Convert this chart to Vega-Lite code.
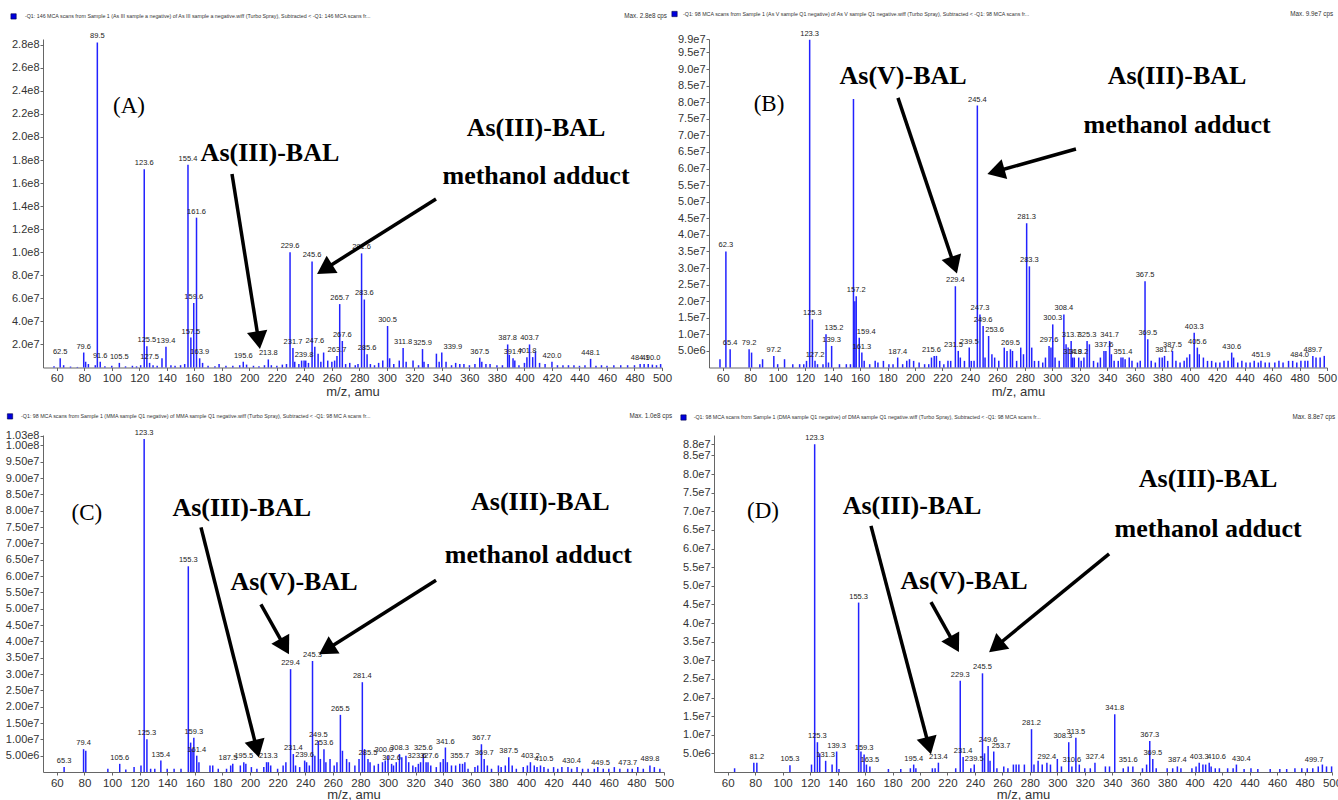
{
"$schema": "https://vega.github.io/schema/vega-lite/v6.json",
"padding": {"left": 5, "top": 10, "right": 0, "bottom": 0},
"bounds": "flush",
"spacing": 396,
"datasets": {
"peaks": [
{"p":"A","mz":62.5,"i":8e6,"label":"62.5"},{"p":"A","mz":79.6,"i":1.3e7,"label":"79.6"},{"p":"A","mz":89.5,"i":2.82e8,"label":"89.5"},{"p":"A","mz":91.6,"i":5e6,"label":"91.6"},{"p":"A","mz":105.5,"i":4e6,"label":"105.5"},{"p":"A","mz":123.6,"i":1.72e8,"label":"123.6"},{"p":"A","mz":125.5,"i":1.85e7,"label":"125.5"},{"p":"A","mz":127.5,"i":4e6,"label":"127.5"},{"p":"A","mz":139.4,"i":1.8e7,"label":"139.4"},{"p":"A","mz":155.4,"i":1.76e8,"label":"155.4"},{"p":"A","mz":157.5,"i":2.6e7,"label":"157.5"},{"p":"A","mz":159.6,"i":5.6e7,"label":"159.6"},{"p":"A","mz":161.6,"i":1.3e8,"label":"161.6"},{"p":"A","mz":163.9,"i":8e6,"label":"163.9"},{"p":"A","mz":195.6,"i":5e6,"label":"195.6"},{"p":"A","mz":213.8,"i":7e6,"label":"213.8"},{"p":"A","mz":229.6,"i":1.0e8,"label":"229.6"},{"p":"A","mz":231.7,"i":1.7e7,"label":"231.7"},{"p":"A","mz":239.8,"i":6e6,"label":"239.8"},{"p":"A","mz":245.6,"i":9.2e7,"label":"245.6"},{"p":"A","mz":247.6,"i":1.8e7,"label":"247.6"},{"p":"A","mz":263.7,"i":1.0e7,"label":"263.7"},{"p":"A","mz":265.7,"i":5.5e7,"label":"265.7"},{"p":"A","mz":267.6,"i":2.3e7,"label":"267.6"},{"p":"A","mz":281.6,"i":9.9e7,"label":"281.6"},{"p":"A","mz":283.6,"i":5.9e7,"label":"283.6"},{"p":"A","mz":285.6,"i":1.15e7,"label":"285.6"},{"p":"A","mz":300.5,"i":3.6e7,"label":"300.5"},{"p":"A","mz":311.8,"i":1.7e7,"label":"311.8"},{"p":"A","mz":325.9,"i":1.6e7,"label":"325.9"},{"p":"A","mz":339.9,"i":1.3e7,"label":"339.9","lmz":348},{"p":"A","mz":367.5,"i":8.5e6,"label":"367.5"},{"p":"A","mz":387.8,"i":2.0e7,"label":"387.8"},{"p":"A","mz":391.7,"i":8e6,"label":"391.7"},{"p":"A","mz":401.8,"i":9e6,"label":"401.8"},{"p":"A","mz":403.7,"i":2.0e7,"label":"403.7"},{"p":"A","mz":420.0,"i":5e6,"label":"420.0"},{"p":"A","mz":448.1,"i":7.5e6,"label":"448.1"},{"p":"A","mz":484.1,"i":3e6,"label":"484.1"},{"p":"A","mz":490.0,"i":3e6,"label":"490.0","lmz":492},
{"p":"A","mz":58,"i":1e6},{"p":"A","mz":65,"i":2e6},{"p":"A","mz":70,"i":8e5},{"p":"A","mz":75,"i":5e5},{"p":"A","mz":81,"i":5e6},{"p":"A","mz":83,"i":3e6},{"p":"A","mz":88,"i":2e6},{"p":"A","mz":95,"i":1e6},{"p":"A","mz":100,"i":1.5e6},{"p":"A","mz":110,"i":1e6},{"p":"A","mz":115,"i":1.5e6},{"p":"A","mz":118,"i":1e6},{"p":"A","mz":121,"i":2e6},{"p":"A","mz":130,"i":2e6},{"p":"A","mz":133,"i":1.5e6},{"p":"A","mz":136.5,"i":8e6},{"p":"A","mz":143,"i":2e6},{"p":"A","mz":146,"i":1.5e6},{"p":"A","mz":150,"i":2e6},{"p":"A","mz":153,"i":3e6},{"p":"A","mz":166,"i":4e6},{"p":"A","mz":170,"i":1.5e6},{"p":"A","mz":175,"i":1e6},{"p":"A","mz":178,"i":3e6},{"p":"A","mz":183,"i":1.5e6},{"p":"A","mz":188,"i":1.5e6},{"p":"A","mz":193,"i":2e6},{"p":"A","mz":198,"i":2.5e6},{"p":"A","mz":203,"i":1.5e6},{"p":"A","mz":207,"i":1e6},{"p":"A","mz":211,"i":2e6},{"p":"A","mz":216,"i":2e6},{"p":"A","mz":220,"i":1.5e6},{"p":"A","mz":224,"i":2.5e6},{"p":"A","mz":227,"i":3e6},{"p":"A","mz":233,"i":5e6},{"p":"A","mz":236,"i":3e6},{"p":"A","mz":238,"i":6e6},{"p":"A","mz":241,"i":6e6},{"p":"A","mz":243,"i":4e6},{"p":"A","mz":250,"i":1.2e7},{"p":"A","mz":252,"i":5e6},{"p":"A","mz":254,"i":1.3e7},{"p":"A","mz":257,"i":6e6},{"p":"A","mz":260,"i":5e6},{"p":"A","mz":262,"i":6e6},{"p":"A","mz":270,"i":3e6},{"p":"A","mz":273,"i":4e6},{"p":"A","mz":277,"i":2e6},{"p":"A","mz":279,"i":3e6},{"p":"A","mz":288,"i":3e6},{"p":"A","mz":291,"i":2e6},{"p":"A","mz":294,"i":4e6},{"p":"A","mz":297,"i":6e6},{"p":"A","mz":302,"i":8e6},{"p":"A","mz":305,"i":3e6},{"p":"A","mz":309,"i":6e6},{"p":"A","mz":314,"i":5e6},{"p":"A","mz":319,"i":6e6},{"p":"A","mz":323,"i":2e6},{"p":"A","mz":327,"i":5e6},{"p":"A","mz":330,"i":3e6},{"p":"A","mz":336,"i":1.2e7},{"p":"A","mz":338,"i":5e6},{"p":"A","mz":343,"i":5e6},{"p":"A","mz":347,"i":2e6},{"p":"A","mz":350,"i":4e6},{"p":"A","mz":353,"i":3e6},{"p":"A","mz":356,"i":3e6},{"p":"A","mz":360,"i":2e6},{"p":"A","mz":364,"i":3e6},{"p":"A","mz":369,"i":5e6},{"p":"A","mz":372,"i":3e6},{"p":"A","mz":375,"i":3e6},{"p":"A","mz":380,"i":2e6},{"p":"A","mz":384,"i":2e6},{"p":"A","mz":389,"i":1.1e7},{"p":"A","mz":393,"i":6e6},{"p":"A","mz":396,"i":2e6},{"p":"A","mz":400,"i":4e6},{"p":"A","mz":406,"i":9e6},{"p":"A","mz":408,"i":1.4e7},{"p":"A","mz":411,"i":4e6},{"p":"A","mz":415,"i":3e6},{"p":"A","mz":424,"i":2e6},{"p":"A","mz":428,"i":2e6},{"p":"A","mz":432,"i":2e6},{"p":"A","mz":436,"i":2e6},{"p":"A","mz":440,"i":1.5e6},{"p":"A","mz":444,"i":2e6},{"p":"A","mz":452,"i":1.5e6},{"p":"A","mz":456,"i":2e6},{"p":"A","mz":460,"i":1.5e6},{"p":"A","mz":465,"i":2e6},{"p":"A","mz":470,"i":2e6},{"p":"A","mz":475,"i":2e6},{"p":"A","mz":480,"i":2e6},{"p":"A","mz":487,"i":3e6},{"p":"A","mz":493,"i":2.5e6},{"p":"A","mz":496,"i":2e6},{"p":"A","mz":499,"i":3e6},
{"p":"B","mz":62.3,"i":3.5e7,"label":"62.3"},{"p":"B","mz":65.4,"i":5.5e6,"label":"65.4"},{"p":"B","mz":79.2,"i":5.5e6,"label":"79.2"},{"p":"B","mz":97.2,"i":3.5e6,"label":"97.2"},{"p":"B","mz":123.3,"i":9.88e7,"label":"123.3"},{"p":"B","mz":125.3,"i":1.45e7,"label":"125.3"},{"p":"B","mz":127.2,"i":2e6,"label":"127.2"},{"p":"B","mz":135.2,"i":1.0e7,"label":"135.2","lmz":141},{"p":"B","mz":139.3,"i":6.5e6,"label":"139.3"},{"p":"B","mz":157.2,"i":2.15e7,"label":"157.2"},{"p":"B","mz":159.4,"i":9e6,"label":"159.4","lmz":164.5},{"p":"B","mz":161.3,"i":4.5e6,"label":"161.3"},{"p":"B","mz":187.4,"i":3e6,"label":"187.4"},{"p":"B","mz":215.6,"i":3.5e6,"label":"215.6","lmz":212},{"p":"B","mz":229.4,"i":2.45e7,"label":"229.4"},{"p":"B","mz":231.5,"i":5e6,"label":"231.5","lmz":228},{"p":"B","mz":239.5,"i":6e6,"label":"239.5"},{"p":"B","mz":245.4,"i":7.9e7,"label":"245.4"},{"p":"B","mz":247.3,"i":1.6e7,"label":"247.3"},{"p":"B","mz":249.6,"i":1.25e7,"label":"249.6"},{"p":"B","mz":253.6,"i":9.5e6,"label":"253.6","lmz":258},{"p":"B","mz":269.5,"i":5.5e6,"label":"269.5"},{"p":"B","mz":281.3,"i":4.35e7,"label":"281.3"},{"p":"B","mz":283.3,"i":3.05e7,"label":"283.3"},{"p":"B","mz":297.6,"i":6.5e6,"label":"297.6"},{"p":"B","mz":300.3,"i":1.3e7,"label":"300.3"},{"p":"B","mz":308.4,"i":1.6e7,"label":"308.4"},{"p":"B","mz":313.7,"i":8e6,"label":"313.7"},{"p":"B","mz":314.8,"i":3e6,"label":"314.8"},{"p":"B","mz":319.2,"i":3e6,"label":"319.2"},{"p":"B","mz":325.3,"i":8e6,"label":"325.3"},{"p":"B","mz":337.6,"i":5e6,"label":"337.6"},{"p":"B","mz":341.7,"i":8e6,"label":"341.7"},{"p":"B","mz":351.4,"i":3e6,"label":"351.4"},{"p":"B","mz":367.5,"i":2.6e7,"label":"367.5"},{"p":"B","mz":369.5,"i":8.5e6,"label":"369.5"},{"p":"B","mz":381.7,"i":3.5e6,"label":"381.7"},{"p":"B","mz":387.5,"i":5e6,"label":"387.5"},{"p":"B","mz":403.3,"i":1.05e7,"label":"403.3"},{"p":"B","mz":405.6,"i":6e6,"label":"405.6"},{"p":"B","mz":430.6,"i":4.5e6,"label":"430.6"},{"p":"B","mz":451.9,"i":2e6,"label":"451.9"},{"p":"B","mz":484.0,"i":2e6,"label":"484.0","lmz":480},{"p":"B","mz":489.7,"i":3.5e6,"label":"489.7"},
{"p":"B","mz":155.2,"i":8.1e7},{"p":"B","mz":156.2,"i":2e7},{"p":"B","mz":58,"i":2.5e6},{"p":"B","mz":81,"i":4.5e6},{"p":"B","mz":87,"i":1e6},{"p":"B","mz":89,"i":2.5e6},{"p":"B","mz":100,"i":1e6},{"p":"B","mz":105,"i":2.5e6},{"p":"B","mz":111,"i":1e6},{"p":"B","mz":116,"i":1e6},{"p":"B","mz":119,"i":1e6},{"p":"B","mz":121,"i":2e6},{"p":"B","mz":129,"i":1e6},{"p":"B","mz":133,"i":1e6},{"p":"B","mz":137,"i":1.5e6},{"p":"B","mz":145,"i":1e6},{"p":"B","mz":150,"i":1e6},{"p":"B","mz":153,"i":1e6},{"p":"B","mz":163,"i":2e6},{"p":"B","mz":167,"i":1e6},{"p":"B","mz":171,"i":2e6},{"p":"B","mz":173,"i":1.5e6},{"p":"B","mz":177,"i":2e6},{"p":"B","mz":181,"i":1e6},{"p":"B","mz":184,"i":1e6},{"p":"B","mz":191,"i":1e6},{"p":"B","mz":194,"i":2e6},{"p":"B","mz":196,"i":2.5e6},{"p":"B","mz":199,"i":2e6},{"p":"B","mz":203,"i":1.5e6},{"p":"B","mz":207,"i":1e6},{"p":"B","mz":210,"i":1e6},{"p":"B","mz":212,"i":3e6},{"p":"B","mz":214,"i":3.5e6},{"p":"B","mz":218,"i":2e6},{"p":"B","mz":221,"i":1e6},{"p":"B","mz":224,"i":2e6},{"p":"B","mz":226,"i":2e6},{"p":"B","mz":233,"i":3e6},{"p":"B","mz":236,"i":2e6},{"p":"B","mz":241,"i":2e6},{"p":"B","mz":243,"i":2e6},{"p":"B","mz":251,"i":3e6},{"p":"B","mz":256,"i":4e6},{"p":"B","mz":258,"i":3e6},{"p":"B","mz":261,"i":2e6},{"p":"B","mz":265,"i":6e6},{"p":"B","mz":267,"i":5e6},{"p":"B","mz":271,"i":5e6},{"p":"B","mz":274,"i":2e6},{"p":"B","mz":277,"i":6e6},{"p":"B","mz":279,"i":4e6},{"p":"B","mz":285,"i":6e6},{"p":"B","mz":287,"i":2e6},{"p":"B","mz":290,"i":2e6},{"p":"B","mz":293,"i":1.5e6},{"p":"B","mz":295,"i":3e6},{"p":"B","mz":299,"i":6e6},{"p":"B","mz":302,"i":3e6},{"p":"B","mz":305,"i":2e6},{"p":"B","mz":310,"i":7e6},{"p":"B","mz":311.5,"i":6e6},{"p":"B","mz":316,"i":3e6},{"p":"B","mz":321,"i":2e6},{"p":"B","mz":323,"i":3e6},{"p":"B","mz":327,"i":7e6},{"p":"B","mz":330,"i":2e6},{"p":"B","mz":333,"i":1.5e6},{"p":"B","mz":335,"i":3e6},{"p":"B","mz":339,"i":5e6},{"p":"B","mz":343,"i":4e6},{"p":"B","mz":345,"i":2e6},{"p":"B","mz":348,"i":2e6},{"p":"B","mz":350,"i":3e6},{"p":"B","mz":353,"i":2.5e6},{"p":"B","mz":356,"i":3e6},{"p":"B","mz":358,"i":2e6},{"p":"B","mz":362,"i":1.5e6},{"p":"B","mz":364,"i":2e6},{"p":"B","mz":372,"i":2e6},{"p":"B","mz":375,"i":1.5e6},{"p":"B","mz":378,"i":3e6},{"p":"B","mz":380,"i":3e6},{"p":"B","mz":384,"i":2e6},{"p":"B","mz":390,"i":2e6},{"p":"B","mz":393,"i":1.5e6},{"p":"B","mz":396,"i":2e6},{"p":"B","mz":398,"i":3e6},{"p":"B","mz":400,"i":4e6},{"p":"B","mz":407,"i":4e6},{"p":"B","mz":410,"i":3e6},{"p":"B","mz":413,"i":2e6},{"p":"B","mz":416,"i":2e6},{"p":"B","mz":419,"i":1.5e6},{"p":"B","mz":422,"i":1.5e6},{"p":"B","mz":425,"i":2e6},{"p":"B","mz":428,"i":2e6},{"p":"B","mz":432,"i":3e6},{"p":"B","mz":435,"i":1.5e6},{"p":"B","mz":438,"i":2e6},{"p":"B","mz":441,"i":1.5e6},{"p":"B","mz":444,"i":1.5e6},{"p":"B","mz":447,"i":2e6},{"p":"B","mz":450,"i":1.5e6},{"p":"B","mz":455,"i":1.5e6},{"p":"B","mz":458,"i":1.5e6},{"p":"B","mz":462,"i":1.5e6},{"p":"B","mz":465,"i":2e6},{"p":"B","mz":468,"i":1.5e6},{"p":"B","mz":472,"i":2e6},{"p":"B","mz":475,"i":2e6},{"p":"B","mz":478,"i":1.5e6},{"p":"B","mz":481,"i":2e6},{"p":"B","mz":486,"i":2e6},{"p":"B","mz":492,"i":3e6},{"p":"B","mz":495,"i":3e6},{"p":"B","mz":498,"i":3.5e6},
{"p":"C","mz":65.3,"i":1.5e6,"label":"65.3"},{"p":"C","mz":79.4,"i":7e6,"label":"79.4"},{"p":"C","mz":105.6,"i":2.5e6,"label":"105.6"},{"p":"C","mz":123.3,"i":1.02e8,"label":"123.3"},{"p":"C","mz":125.3,"i":1.0e7,"label":"125.3"},{"p":"C","mz":135.4,"i":3.5e6,"label":"135.4"},{"p":"C","mz":155.3,"i":6.3e7,"label":"155.3"},{"p":"C","mz":159.3,"i":1.05e7,"label":"159.3"},{"p":"C","mz":161.4,"i":5e6,"label":"161.4"},{"p":"C","mz":187.5,"i":2.5e6,"label":"187.5","lmz":184},{"p":"C","mz":195.5,"i":3e6,"label":"195.5"},{"p":"C","mz":213.3,"i":3e6,"label":"213.3"},{"p":"C","mz":229.4,"i":3.15e7,"label":"229.4"},{"p":"C","mz":231.4,"i":5.5e6,"label":"231.4"},{"p":"C","mz":239.6,"i":3.5e6,"label":"239.6"},{"p":"C","mz":245.3,"i":3.4e7,"label":"245.3"},{"p":"C","mz":249.5,"i":9.5e6,"label":"249.5"},{"p":"C","mz":253.6,"i":7e6,"label":"253.6"},{"p":"C","mz":265.5,"i":1.75e7,"label":"265.5"},{"p":"C","mz":281.4,"i":2.75e7,"label":"281.4"},{"p":"C","mz":285.5,"i":4e6,"label":"285.5"},{"p":"C","mz":300.0,"i":5e6,"label":"300.0","lmz":297},{"p":"C","mz":302.6,"i":2.5e6,"label":"302.6"},{"p":"C","mz":308.3,"i":5.5e6,"label":"308.3"},{"p":"C","mz":323.6,"i":3e6,"label":"323.6","lmz":321},{"p":"C","mz":325.6,"i":5.5e6,"label":"325.6"},{"p":"C","mz":327.6,"i":3e6,"label":"327.6","lmz":330},{"p":"C","mz":341.6,"i":7.5e6,"label":"341.6"},{"p":"C","mz":355.7,"i":3e6,"label":"355.7","lmz":352},{"p":"C","mz":367.7,"i":8.5e6,"label":"367.7"},{"p":"C","mz":369.7,"i":4e6,"label":"369.7"},{"p":"C","mz":387.5,"i":4.5e6,"label":"387.5"},{"p":"C","mz":403.2,"i":3e6,"label":"403.2"},{"p":"C","mz":410.5,"i":2e6,"label":"410.5","lmz":413},{"p":"C","mz":430.4,"i":1.5e6,"label":"430.4","lmz":433},{"p":"C","mz":449.5,"i":1e6,"label":"449.5","lmz":454},{"p":"C","mz":473.7,"i":1e6,"label":"473.7"},{"p":"C","mz":489.8,"i":2e6,"label":"489.8"},
{"p":"C","mz":81,"i":6.5e6},{"p":"C","mz":97,"i":1e6},{"p":"C","mz":110,"i":8e5},{"p":"C","mz":116,"i":1.5e6},{"p":"C","mz":121,"i":2e6},{"p":"C","mz":128,"i":1e6},{"p":"C","mz":131,"i":1e6},{"p":"C","mz":140,"i":1e6},{"p":"C","mz":145,"i":1e6},{"p":"C","mz":150,"i":1e6},{"p":"C","mz":157,"i":9e6},{"p":"C","mz":158,"i":7e6},{"p":"C","mz":163,"i":3e6},{"p":"C","mz":171,"i":2e6},{"p":"C","mz":173,"i":2e6},{"p":"C","mz":177,"i":1e6},{"p":"C","mz":183,"i":1e6},{"p":"C","mz":186,"i":2e6},{"p":"C","mz":193,"i":2e6},{"p":"C","mz":197,"i":2.5e6},{"p":"C","mz":201,"i":1.5e6},{"p":"C","mz":205,"i":1e6},{"p":"C","mz":210,"i":1.5e6},{"p":"C","mz":212,"i":3e6},{"p":"C","mz":215,"i":2e6},{"p":"C","mz":220,"i":1e6},{"p":"C","mz":224,"i":2e6},{"p":"C","mz":226,"i":3e6},{"p":"C","mz":233,"i":2e6},{"p":"C","mz":236,"i":1.5e6},{"p":"C","mz":241,"i":3e6},{"p":"C","mz":243,"i":2e6},{"p":"C","mz":247,"i":5e6},{"p":"C","mz":251,"i":4e6},{"p":"C","mz":255,"i":3e6},{"p":"C","mz":258,"i":4e6},{"p":"C","mz":261,"i":2e6},{"p":"C","mz":263,"i":3e6},{"p":"C","mz":267,"i":6.5e6},{"p":"C","mz":270,"i":4e6},{"p":"C","mz":272,"i":3e6},{"p":"C","mz":276,"i":2e6},{"p":"C","mz":279,"i":4e6},{"p":"C","mz":283,"i":7e6},{"p":"C","mz":287,"i":3e6},{"p":"C","mz":290,"i":2e6},{"p":"C","mz":293,"i":2.5e6},{"p":"C","mz":296,"i":3e6},{"p":"C","mz":298,"i":3.5e6},{"p":"C","mz":304,"i":2e6},{"p":"C","mz":306,"i":3e6},{"p":"C","mz":310,"i":4.5e6},{"p":"C","mz":313,"i":5e6},{"p":"C","mz":315,"i":3e6},{"p":"C","mz":318,"i":2e6},{"p":"C","mz":320,"i":1.5e6},{"p":"C","mz":322,"i":2.5e6},{"p":"C","mz":329,"i":3e6},{"p":"C","mz":331,"i":2e6},{"p":"C","mz":335,"i":1.5e6},{"p":"C","mz":338,"i":3e6},{"p":"C","mz":340,"i":4e6},{"p":"C","mz":343,"i":3e6},{"p":"C","mz":346,"i":2e6},{"p":"C","mz":349,"i":2e6},{"p":"C","mz":352,"i":2.5e6},{"p":"C","mz":354,"i":2.5e6},{"p":"C","mz":358,"i":1e6},{"p":"C","mz":363,"i":1.5e6},{"p":"C","mz":365,"i":2e6},{"p":"C","mz":372,"i":2e6},{"p":"C","mz":375,"i":1e6},{"p":"C","mz":380,"i":2e6},{"p":"C","mz":382,"i":1.5e6},{"p":"C","mz":385,"i":2e6},{"p":"C","mz":390,"i":2e6},{"p":"C","mz":393,"i":1e6},{"p":"C","mz":398,"i":1.5e6},{"p":"C","mz":401,"i":2e6},{"p":"C","mz":406,"i":2e6},{"p":"C","mz":408,"i":1.5e6},{"p":"C","mz":413,"i":1.5e6},{"p":"C","mz":416,"i":1e6},{"p":"C","mz":420,"i":1.5e6},{"p":"C","mz":423,"i":1e6},{"p":"C","mz":426,"i":1.5e6},{"p":"C","mz":433,"i":1e6},{"p":"C","mz":437,"i":1.5e6},{"p":"C","mz":441,"i":1e6},{"p":"C","mz":445,"i":1e6},{"p":"C","mz":452,"i":1.5e6},{"p":"C","mz":456,"i":1e6},{"p":"C","mz":460,"i":1e6},{"p":"C","mz":464,"i":1.5e6},{"p":"C","mz":468,"i":1e6},{"p":"C","mz":477,"i":1e6},{"p":"C","mz":481,"i":1.5e6},{"p":"C","mz":485,"i":1e6},{"p":"C","mz":493,"i":1.5e6},{"p":"C","mz":497,"i":1e6},
{"p":"D","mz":81.2,"i":2.5e6,"label":"81.2"},{"p":"D","mz":105.3,"i":1.8e6,"label":"105.3"},{"p":"D","mz":123.3,"i":8.8e7,"label":"123.3"},{"p":"D","mz":125.3,"i":8e6,"label":"125.3"},{"p":"D","mz":131.3,"i":3e6,"label":"131.3"},{"p":"D","mz":139.3,"i":5.5e6,"label":"139.3"},{"p":"D","mz":155.3,"i":4.55e7,"label":"155.3"},{"p":"D","mz":159.3,"i":4.7e6,"label":"159.3"},{"p":"D","mz":163.5,"i":1.5e6,"label":"163.5"},{"p":"D","mz":195.4,"i":2e6,"label":"195.4"},{"p":"D","mz":213.4,"i":2.5e6,"label":"213.4"},{"p":"D","mz":229.3,"i":2.45e7,"label":"229.3"},{"p":"D","mz":231.4,"i":4e6,"label":"231.4"},{"p":"D","mz":239.5,"i":2e6,"label":"239.5"},{"p":"D","mz":245.5,"i":2.65e7,"label":"245.5"},{"p":"D","mz":249.6,"i":7e6,"label":"249.6"},{"p":"D","mz":253.7,"i":5.5e6,"label":"253.7","lmz":259},{"p":"D","mz":281.2,"i":1.15e7,"label":"281.2"},{"p":"D","mz":292.4,"i":2.5e6,"label":"292.4"},{"p":"D","mz":308.3,"i":8e6,"label":"308.3","lmz":304},{"p":"D","mz":310.6,"i":1.5e6,"label":"310.6"},{"p":"D","mz":313.5,"i":9.2e6,"label":"313.5"},{"p":"D","mz":327.4,"i":2.5e6,"label":"327.4"},{"p":"D","mz":341.8,"i":1.55e7,"label":"341.8"},{"p":"D","mz":351.6,"i":1.5e6,"label":"351.6"},{"p":"D","mz":367.3,"i":8.3e6,"label":"367.3"},{"p":"D","mz":369.5,"i":3.5e6,"label":"369.5"},{"p":"D","mz":387.4,"i":1.5e6,"label":"387.4"},{"p":"D","mz":403.3,"i":2.5e6,"label":"403.3"},{"p":"D","mz":410.6,"i":2.5e6,"label":"410.6","lmz":416},{"p":"D","mz":430.4,"i":2e6,"label":"430.4","lmz":434},{"p":"D","mz":499.7,"i":1.5e6,"label":"499.7","lmz":487},
{"p":"D","mz":65,"i":1e6},{"p":"D","mz":79,"i":2.5e6},{"p":"D","mz":121,"i":2e6},{"p":"D","mz":127,"i":5e6},{"p":"D","mz":136,"i":2e6},{"p":"D","mz":141,"i":8e5},{"p":"D","mz":157,"i":5.5e6},{"p":"D","mz":161,"i":2e6},{"p":"D","mz":177,"i":8e5},{"p":"D","mz":186,"i":8e5},{"p":"D","mz":193,"i":1e6},{"p":"D","mz":197,"i":1e6},{"p":"D","mz":209,"i":1e6},{"p":"D","mz":211,"i":1e6},{"p":"D","mz":226,"i":1e6},{"p":"D","mz":237,"i":1e6},{"p":"D","mz":247,"i":5e6},{"p":"D","mz":251,"i":3e6},{"p":"D","mz":256,"i":1e6},{"p":"D","mz":261,"i":1.5e6},{"p":"D","mz":264,"i":1e6},{"p":"D","mz":268,"i":2e6},{"p":"D","mz":270,"i":2e6},{"p":"D","mz":272,"i":2e6},{"p":"D","mz":276,"i":2e6},{"p":"D","mz":283,"i":2e6},{"p":"D","mz":286,"i":3e6},{"p":"D","mz":289,"i":2e6},{"p":"D","mz":295,"i":2e6},{"p":"D","mz":300,"i":3.5e6},{"p":"D","mz":303,"i":1.5e6},{"p":"D","mz":316,"i":2e6},{"p":"D","mz":320,"i":1e6},{"p":"D","mz":324,"i":1e6},{"p":"D","mz":335,"i":1.5e6},{"p":"D","mz":338,"i":1.5e6},{"p":"D","mz":348,"i":1e6},{"p":"D","mz":355,"i":1.5e6},{"p":"D","mz":362,"i":1e6},{"p":"D","mz":365,"i":2e6},{"p":"D","mz":372,"i":1e6},{"p":"D","mz":380,"i":1e6},{"p":"D","mz":384,"i":1e6},{"p":"D","mz":390,"i":1e6},{"p":"D","mz":398,"i":1e6},{"p":"D","mz":401,"i":1.5e6},{"p":"D","mz":406,"i":2e6},{"p":"D","mz":408,"i":2e6},{"p":"D","mz":412,"i":1.5e6},{"p":"D","mz":415,"i":1e6},{"p":"D","mz":418,"i":1e6},{"p":"D","mz":424,"i":1e6},{"p":"D","mz":428,"i":1e6},{"p":"D","mz":436,"i":8e5},{"p":"D","mz":441,"i":1e6},{"p":"D","mz":446,"i":8e5},{"p":"D","mz":455,"i":8e5},{"p":"D","mz":462,"i":8e5},{"p":"D","mz":467,"i":8e5},{"p":"D","mz":473,"i":1e6},{"p":"D","mz":478,"i":1e6},{"p":"D","mz":482,"i":1e6},{"p":"D","mz":486,"i":1e6},{"p":"D","mz":490,"i":1.5e6},{"p":"D","mz":493,"i":2e6},{"p":"D","mz":496,"i":1.5e6}
],
"notes": [
{"p":"A","kind":"tag","mz":112.5,"i":2.27e8,"text":"(A)"},
{"p":"A","kind":"big","mz":215,"i":1.86e8,"text":"As(III)-BAL"},
{"p":"A","kind":"big","mz":408.4,"i":2.077e8,"text":"As(III)-BAL"},
{"p":"A","kind":"big","mz":408.4,"i":1.66e8,"text":"methanol adduct"},
{"p":"A","kind":"hl","mz":36.9,"i":3.046e8,"text":"-Q1: 146 MCA scans from Sample 1 (As III sample a negative) of As III sample a negative.wiff (Turbo Spray), Subtracted < -Q1: 146 MCA scans fr..."},
{"p":"A","kind":"hr","mz":503.6,"i":3.046e8,"text":"Max. 2.8e8 cps"},
{"p":"A","kind":"sq","mz":28.6,"i":3.046e8,"text":""},
{"p":"B","kind":"tag","mz":93.7,"i":7.95e7,"text":"(B)"},
{"p":"B","kind":"big","mz":191.3,"i":8.79e7,"text":"As(V)-BAL"},
{"p":"B","kind":"big","mz":390.8,"i":8.79e7,"text":"As(III)-BAL"},
{"p":"B","kind":"big","mz":390.8,"i":7.31e7,"text":"methanol adduct"},
{"p":"B","kind":"hl","mz":31.1,"i":1.066e8,"text":"-Q1: 98 MCA scans from Sample 1 (As V sample Q1 negative) of As V sample Q1 negative.wiff (Turbo Spray), Subtracted < -Q1: 98 MCA scans fr..."},
{"p":"B","kind":"hr","mz":504.4,"i":1.066e8,"text":"Max. 9.9e7 cps"},
{"p":"B","kind":"sq","mz":24.9,"i":1.066e8,"text":""},
{"p":"C","kind":"tag","mz":81.8,"i":7.92e7,"text":"(C)"},
{"p":"C","kind":"big","mz":194,"i":8.07e7,"text":"As(III)-BAL"},
{"p":"C","kind":"big","mz":231.9,"i":5.81e7,"text":"As(V)-BAL"},
{"p":"C","kind":"big","mz":410.4,"i":8.26e7,"text":"As(III)-BAL"},
{"p":"C","kind":"big","mz":408.9,"i":6.66e7,"text":"methanol adduct"},
{"p":"C","kind":"hl","mz":34.1,"i":1.089e8,"text":"-Q1: 98 MCA scans from Sample 1 (MMA sample Q1 negative) of MMA sample Q1 negative.wiff (Turbo Spray), Subtracted < -Q1: 98 MC A scans fr..."},
{"p":"C","kind":"hr","mz":505.9,"i":1.089e8,"text":"Max. 1.0e8 cps"},
{"p":"C","kind":"sq","mz":26.1,"i":1.089e8,"text":""},
{"p":"D","kind":"tag","mz":85.7,"i":7.02e7,"text":"(D)"},
{"p":"D","kind":"big","mz":194.2,"i":7.14e7,"text":"As(III)-BAL"},
{"p":"D","kind":"big","mz":232.1,"i":5.14e7,"text":"As(V)-BAL"},
{"p":"D","kind":"big","mz":409.8,"i":7.86e7,"text":"As(III)-BAL"},
{"p":"D","kind":"big","mz":409.8,"i":6.53e7,"text":"methanol adduct"},
{"p":"D","kind":"hl","mz":35.2,"i":9.52e7,"text":"-Q1: 98 MCA scans from Sample 1 (DMA sample Q1 negative) of DMA sample Q1 negative.wiff (Turbo Spray), Subtracted < -Q1: 98 MCA scans fr..."},
{"p":"D","kind":"hr","mz":502.3,"i":9.52e7,"text":"Max. 8.8e7 cps"},
{"p":"D","kind":"sq","mz":27.8,"i":9.52e7,"text":""}
],
"arrows": [
{"p":"A","mz":206.7,"i":2.37e7,"mz2":187.4,"i2":1.679e8,"angle":170.9},
{"p":"A","mz":254.7,"i":8.53e7,"mz2":335.7,"i2":1.462e8,"angle":237.8},
{"p":"B","mz":228.5,"i":3.085e7,"mz2":187.6,"i2":8.13e7,"angle":161.5},
{"p":"B","mz":258.9,"i":5.91e7,"mz2":317.2,"i2":6.59e7,"angle":254.3},
{"p":"C","mz":204.9,"i":7.1e6,"mz2":164.5,"i2":7.49e7,"angle":165.85},
{"p":"C","mz":225.1,"i":3.84e7,"mz2":207.9,"i2":5.13e7,"angle":150.75},
{"p":"C","mz":255.5,"i":3.75e7,"mz2":334.8,"i2":5.87e7,"angle":237.7},
{"p":"D","mz":206.4,"i":7.05e6,"mz2":164.3,"i2":6.61e7,"angle":165.85},
{"p":"D","mz":225.2,"i":3.43e7,"mz2":208,"i2":4.56e7,"angle":150.75},
{"p":"D","mz":255.3,"i":3.37e7,"mz2":337.7,"i2":5.86e7,"angle":230.5}
]
},
"vconcat": [
{"hconcat": [
{"width": 619, "height": 328.5,
 "encoding": {
  "x": {"field":"mz","type":"quantitative","scale":{"domain":[50,500],"nice":false,"zero":false},"axis":{"values":[60,80,100,120,140,160,180,200,220,240,260,280,300,320,340,360,380,400,420,440,460,480,500],"title":"m/z, amu"}},
  "y": {"field":"i","type":"quantitative","scale":{"domain":[0,2.85e8],"nice":false},"axis":{"values":[2e7,4e7,6e7,8e7,1e8,1.2e8,1.4e8,1.6e8,1.8e8,2e8,2.2e8,2.4e8,2.6e8,2.8e8],"labelExpr":"replace(format(datum.value,'.1e'),'+','')","title":null}}
 },
 "layer": [
  {"data":{"name":"peaks"},"transform":[{"filter":"datum.p==='A'"}],"mark":{"type":"rule","color":"#2222ff","strokeWidth":1.5},"encoding":{"y2":{"datum":0}}},
  {"data":{"name":"peaks"},"transform":[{"filter":"datum.p==='A' && datum.label && !datum.lmz"}],"mark":{"type":"text","fontSize":7.5,"baseline":"bottom","dy":-2,"color":"#222","font":"Liberation Sans"},"encoding":{"text":{"field":"label"}}},
  {"data":{"name":"peaks"},"transform":[{"filter":"datum.p==='A' && datum.lmz"}],"mark":{"type":"text","fontSize":7.5,"baseline":"bottom","dy":-2,"color":"#222","font":"Liberation Sans"},"encoding":{"x":{"field":"lmz","type":"quantitative"},"text":{"field":"label"}}},
  {"data":{"name":"arrows"},"transform":[{"filter":"datum.p==='A'"}],"mark":{"type":"rule","color":"black","strokeWidth":3.5},"encoding":{"x2":{"field":"mz2"},"y2":{"field":"i2"}}},
  {"data":{"name":"arrows"},"transform":[{"filter":"datum.p==='A'"}],"mark":{"type":"point","shape":"triangle-up","filled":true,"color":"black","opacity":1,"size":420},"encoding":{"angle":{"field":"angle","type":"quantitative","scale":null}}},
  {"data":{"name":"notes"},"transform":[{"filter":"datum.p==='A' && datum.kind==='big'"}],"mark":{"type":"text","font":"Liberation Serif","fontWeight":"bold","fontSize":26,"align":"center","baseline":"middle","color":"black"},"encoding":{"text":{"field":"text"}}},
  {"data":{"name":"notes"},"transform":[{"filter":"datum.p==='A' && datum.kind==='tag'"}],"mark":{"type":"text","font":"Liberation Serif","fontSize":23,"align":"center","baseline":"middle","color":"black"},"encoding":{"text":{"field":"text"}}},
  {"data":{"name":"notes"},"transform":[{"filter":"datum.p==='A' && datum.kind==='hl'"}],"mark":{"type":"text","font":"Liberation Sans","fontSize":5.3,"align":"left","baseline":"middle","color":"#333"},"encoding":{"text":{"field":"text"}}},
  {"data":{"name":"notes"},"transform":[{"filter":"datum.p==='A' && datum.kind==='hr'"}],"mark":{"type":"text","font":"Liberation Sans","fontSize":6.3,"align":"right","baseline":"middle","color":"#333"},"encoding":{"text":{"field":"text"}}},
  {"data":{"name":"notes"},"transform":[{"filter":"datum.p==='A' && datum.kind==='sq'"}],"mark":{"type":"point","shape":"square","filled":true,"color":"#0000dd","opacity":1,"size":28,"stroke":"#000044","strokeWidth":0.6}},
  {"data":{"values":[{}]},"mark":{"type":"point","shape":"triangle-right","filled":true,"color":"#000066","opacity":1,"size":30},"encoding":{"x":{"datum":50},"y":{"datum":0}}}
 ]},
{"width": 618, "height": 328.5,
 "encoding": {
  "x": {"field":"mz","type":"quantitative","scale":{"domain":[50,500],"nice":false,"zero":false},"axis":{"values":[60,80,100,120,140,160,180,200,220,240,260,280,300,320,340,360,380,400,420,440,460,480,500],"title":"m/z, amu"}},
  "y": {"field":"i","type":"quantitative","scale":{"domain":[0,9.906e7],"nice":false},"axis":{"values":[5e6,1e7,1.5e7,2e7,2.5e7,3e7,3.5e7,4e7,4.5e7,5e7,5.5e7,6e7,6.5e7,7e7,7.5e7,8e7,8.5e7,9e7,9.5e7,9.9e7],"labelExpr":"replace(format(datum.value,'.1e'),'+','')","title":null}}
 },
 "layer": [
  {"data":{"name":"peaks"},"transform":[{"filter":"datum.p==='B'"}],"mark":{"type":"rule","color":"#2222ff","strokeWidth":1.5},"encoding":{"y2":{"datum":0}}},
  {"data":{"name":"peaks"},"transform":[{"filter":"datum.p==='B' && datum.label && !datum.lmz"}],"mark":{"type":"text","fontSize":7.5,"baseline":"bottom","dy":-2,"color":"#222","font":"Liberation Sans"},"encoding":{"text":{"field":"label"}}},
  {"data":{"name":"peaks"},"transform":[{"filter":"datum.p==='B' && datum.lmz"}],"mark":{"type":"text","fontSize":7.5,"baseline":"bottom","dy":-2,"color":"#222","font":"Liberation Sans"},"encoding":{"x":{"field":"lmz","type":"quantitative"},"text":{"field":"label"}}},
  {"data":{"name":"arrows"},"transform":[{"filter":"datum.p==='B'"}],"mark":{"type":"rule","color":"black","strokeWidth":3.5},"encoding":{"x2":{"field":"mz2"},"y2":{"field":"i2"}}},
  {"data":{"name":"arrows"},"transform":[{"filter":"datum.p==='B'"}],"mark":{"type":"point","shape":"triangle-up","filled":true,"color":"black","opacity":1,"size":420},"encoding":{"angle":{"field":"angle","type":"quantitative","scale":null}}},
  {"data":{"name":"notes"},"transform":[{"filter":"datum.p==='B' && datum.kind==='big'"}],"mark":{"type":"text","font":"Liberation Serif","fontWeight":"bold","fontSize":26,"align":"center","baseline":"middle","color":"black"},"encoding":{"text":{"field":"text"}}},
  {"data":{"name":"notes"},"transform":[{"filter":"datum.p==='B' && datum.kind==='tag'"}],"mark":{"type":"text","font":"Liberation Serif","fontSize":23,"align":"center","baseline":"middle","color":"black"},"encoding":{"text":{"field":"text"}}},
  {"data":{"name":"notes"},"transform":[{"filter":"datum.p==='B' && datum.kind==='hl'"}],"mark":{"type":"text","font":"Liberation Sans","fontSize":5.3,"align":"left","baseline":"middle","color":"#333"},"encoding":{"text":{"field":"text"}}},
  {"data":{"name":"notes"},"transform":[{"filter":"datum.p==='B' && datum.kind==='hr'"}],"mark":{"type":"text","font":"Liberation Sans","fontSize":6.3,"align":"right","baseline":"middle","color":"#333"},"encoding":{"text":{"field":"text"}}},
  {"data":{"name":"notes"},"transform":[{"filter":"datum.p==='B' && datum.kind==='sq'"}],"mark":{"type":"point","shape":"square","filled":true,"color":"#0000dd","opacity":1,"size":28,"stroke":"#000044","strokeWidth":0.6}},
  {"data":{"values":[{}]},"mark":{"type":"point","shape":"triangle-right","filled":true,"color":"#000066","opacity":1,"size":30},"encoding":{"x":{"datum":50},"y":{"datum":0}}}
 ]}
], "spacing": 47, "bounds": "flush"},
{"hconcat": [
{"width": 621, "height": 337,
 "encoding": {
  "x": {"field":"mz","type":"quantitative","scale":{"domain":[50,500],"nice":false,"zero":false},"axis":{"values":[60,80,100,120,140,160,180,200,220,240,260,280,300,320,340,360,380,400,420,440,460,480,500],"title":"m/z, amu","titlePadding":0}},
  "y": {"field":"i","type":"quantitative","scale":{"domain":[0,1.032e8],"nice":false},"axis":{"values":[5e6,1e7,1.5e7,2e7,2.5e7,3e7,3.5e7,4e7,4.5e7,5e7,5.5e7,6e7,6.5e7,7e7,7.5e7,8e7,8.5e7,9e7,9.5e7,1e8,1.03e8],"labelExpr":"replace(format(datum.value,'.2e'),'+','')","title":null}}
 },
 "layer": [
  {"data":{"name":"peaks"},"transform":[{"filter":"datum.p==='C'"}],"mark":{"type":"rule","color":"#2222ff","strokeWidth":1.5},"encoding":{"y2":{"datum":0}}},
  {"data":{"name":"peaks"},"transform":[{"filter":"datum.p==='C' && datum.label && !datum.lmz"}],"mark":{"type":"text","fontSize":7.5,"baseline":"bottom","dy":-2,"color":"#222","font":"Liberation Sans"},"encoding":{"text":{"field":"label"}}},
  {"data":{"name":"peaks"},"transform":[{"filter":"datum.p==='C' && datum.lmz"}],"mark":{"type":"text","fontSize":7.5,"baseline":"bottom","dy":-2,"color":"#222","font":"Liberation Sans"},"encoding":{"x":{"field":"lmz","type":"quantitative"},"text":{"field":"label"}}},
  {"data":{"name":"arrows"},"transform":[{"filter":"datum.p==='C'"}],"mark":{"type":"rule","color":"black","strokeWidth":3.5},"encoding":{"x2":{"field":"mz2"},"y2":{"field":"i2"}}},
  {"data":{"name":"arrows"},"transform":[{"filter":"datum.p==='C'"}],"mark":{"type":"point","shape":"triangle-up","filled":true,"color":"black","opacity":1,"size":420},"encoding":{"angle":{"field":"angle","type":"quantitative","scale":null}}},
  {"data":{"name":"notes"},"transform":[{"filter":"datum.p==='C' && datum.kind==='big'"}],"mark":{"type":"text","font":"Liberation Serif","fontWeight":"bold","fontSize":26,"align":"center","baseline":"middle","color":"black"},"encoding":{"text":{"field":"text"}}},
  {"data":{"name":"notes"},"transform":[{"filter":"datum.p==='C' && datum.kind==='tag'"}],"mark":{"type":"text","font":"Liberation Serif","fontSize":23,"align":"center","baseline":"middle","color":"black"},"encoding":{"text":{"field":"text"}}},
  {"data":{"name":"notes"},"transform":[{"filter":"datum.p==='C' && datum.kind==='hl'"}],"mark":{"type":"text","font":"Liberation Sans","fontSize":5.3,"align":"left","baseline":"middle","color":"#333"},"encoding":{"text":{"field":"text"}}},
  {"data":{"name":"notes"},"transform":[{"filter":"datum.p==='C' && datum.kind==='hr'"}],"mark":{"type":"text","font":"Liberation Sans","fontSize":6.3,"align":"right","baseline":"middle","color":"#333"},"encoding":{"text":{"field":"text"}}},
  {"data":{"name":"notes"},"transform":[{"filter":"datum.p==='C' && datum.kind==='sq'"}],"mark":{"type":"point","shape":"square","filled":true,"color":"#0000dd","opacity":1,"size":28,"stroke":"#000044","strokeWidth":0.6}},
  {"data":{"values":[{}]},"mark":{"type":"point","shape":"triangle-right","filled":true,"color":"#000066","opacity":1,"size":30},"encoding":{"x":{"datum":50},"y":{"datum":0}}}
 ]},
{"width": 618, "height": 337,
 "encoding": {
  "x": {"field":"mz","type":"quantitative","scale":{"domain":[50,500],"nice":false,"zero":false},"axis":{"values":[60,80,100,120,140,160,180,200,220,240,260,280,300,320,340,360,380,400,420,440,460,480,500],"title":"m/z, amu","titlePadding":0}},
  "y": {"field":"i","type":"quantitative","scale":{"domain":[0,9.05e7],"nice":false},"axis":{"values":[5e6,1e7,1.5e7,2e7,2.5e7,3e7,3.5e7,4e7,4.5e7,5e7,5.5e7,6e7,6.5e7,7e7,7.5e7,8e7,8.5e7,8.8e7],"labelExpr":"replace(format(datum.value,'.1e'),'+','')","title":null}}
 },
 "layer": [
  {"data":{"name":"peaks"},"transform":[{"filter":"datum.p==='D'"}],"mark":{"type":"rule","color":"#2222ff","strokeWidth":1.5},"encoding":{"y2":{"datum":0}}},
  {"data":{"name":"peaks"},"transform":[{"filter":"datum.p==='D' && datum.label && !datum.lmz"}],"mark":{"type":"text","fontSize":7.5,"baseline":"bottom","dy":-2,"color":"#222","font":"Liberation Sans"},"encoding":{"text":{"field":"label"}}},
  {"data":{"name":"peaks"},"transform":[{"filter":"datum.p==='D' && datum.lmz"}],"mark":{"type":"text","fontSize":7.5,"baseline":"bottom","dy":-2,"color":"#222","font":"Liberation Sans"},"encoding":{"x":{"field":"lmz","type":"quantitative"},"text":{"field":"label"}}},
  {"data":{"name":"arrows"},"transform":[{"filter":"datum.p==='D'"}],"mark":{"type":"rule","color":"black","strokeWidth":3.5},"encoding":{"x2":{"field":"mz2"},"y2":{"field":"i2"}}},
  {"data":{"name":"arrows"},"transform":[{"filter":"datum.p==='D'"}],"mark":{"type":"point","shape":"triangle-up","filled":true,"color":"black","opacity":1,"size":420},"encoding":{"angle":{"field":"angle","type":"quantitative","scale":null}}},
  {"data":{"name":"notes"},"transform":[{"filter":"datum.p==='D' && datum.kind==='big'"}],"mark":{"type":"text","font":"Liberation Serif","fontWeight":"bold","fontSize":26,"align":"center","baseline":"middle","color":"black"},"encoding":{"text":{"field":"text"}}},
  {"data":{"name":"notes"},"transform":[{"filter":"datum.p==='D' && datum.kind==='tag'"}],"mark":{"type":"text","font":"Liberation Serif","fontSize":23,"align":"center","baseline":"middle","color":"black"},"encoding":{"text":{"field":"text"}}},
  {"data":{"name":"notes"},"transform":[{"filter":"datum.p==='D' && datum.kind==='hl'"}],"mark":{"type":"text","font":"Liberation Sans","fontSize":5.3,"align":"left","baseline":"middle","color":"#333"},"encoding":{"text":{"field":"text"}}},
  {"data":{"name":"notes"},"transform":[{"filter":"datum.p==='D' && datum.kind==='hr'"}],"mark":{"type":"text","font":"Liberation Sans","fontSize":6.3,"align":"right","baseline":"middle","color":"#333"},"encoding":{"text":{"field":"text"}}},
  {"data":{"name":"notes"},"transform":[{"filter":"datum.p==='D' && datum.kind==='sq'"}],"mark":{"type":"point","shape":"square","filled":true,"color":"#0000dd","opacity":1,"size":28,"stroke":"#000044","strokeWidth":0.6}},
  {"data":{"values":[{}]},"mark":{"type":"point","shape":"triangle-right","filled":true,"color":"#000066","opacity":1,"size":30},"encoding":{"x":{"datum":50},"y":{"datum":0}}}
 ]}
], "spacing": 50, "bounds": "flush"}
],
"config": {
 "view": {"stroke": null},
 "axis": {"grid": false, "domainColor": "#666", "tickColor": "#666", "labelColor": "#333", "labelFont": "Liberation Sans", "titleFont": "Liberation Sans", "labelFontSize": 11, "tickSize": 3, "labelOverlap": false, "labelFlush": false, "titleFontWeight": "normal", "titleColor": "#333"},
 "axisX": {"labelPadding": 2, "titleFontSize": 13, "titlePadding": 1, "labelFontSize": 11.5},
 "axisY": {"labelPadding": 1}
}
}
